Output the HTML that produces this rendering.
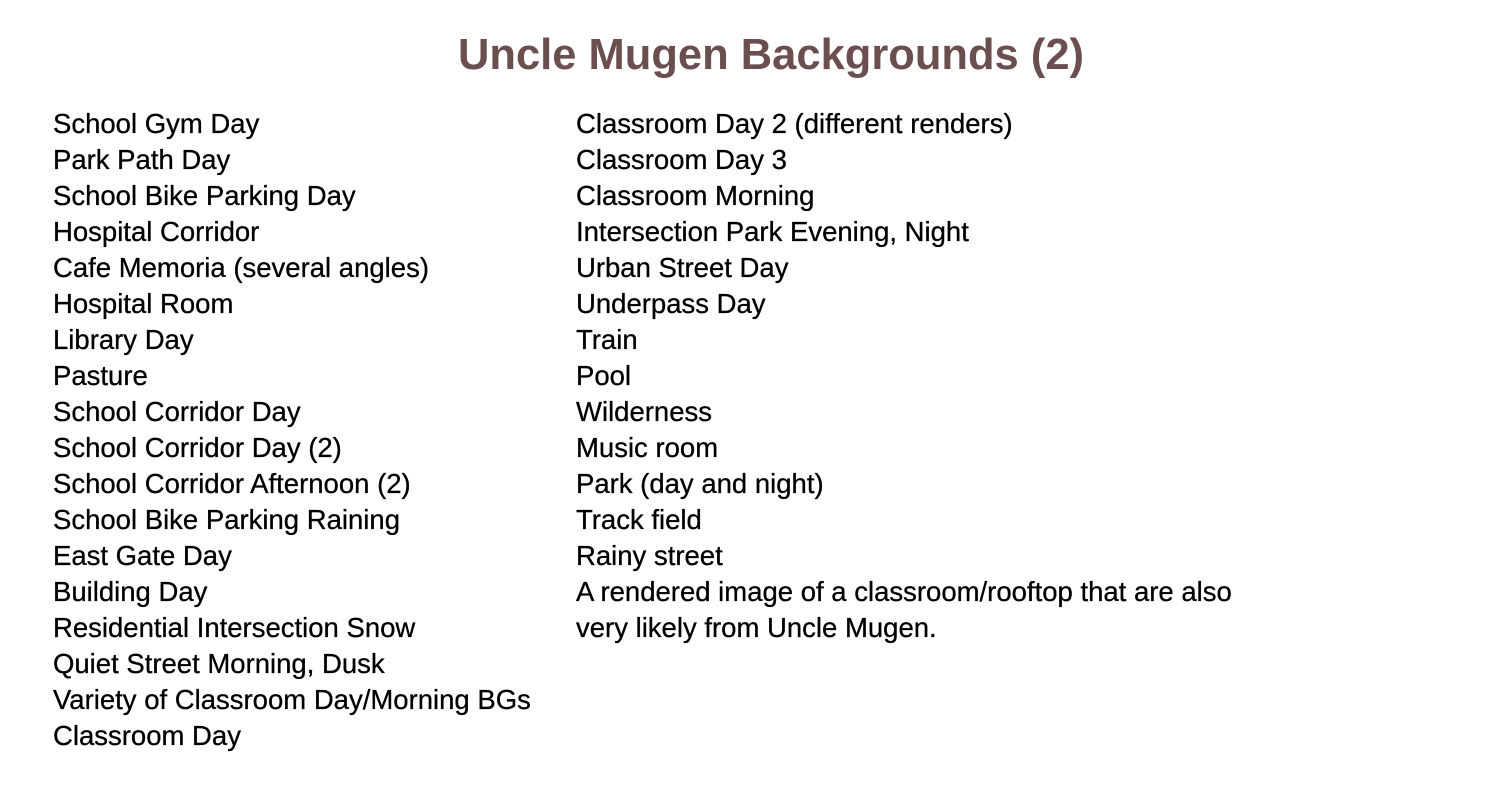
<!DOCTYPE html>
<html><head><meta charset="utf-8"><style>
body{margin:0;width:1500px;height:800px;background:#fff;position:relative;overflow:hidden;font-family:"Liberation Sans",sans-serif;color:#000}
.t{position:absolute;left:0;width:1542px;top:28px;text-align:center;font-size:43.5px;font-weight:bold;line-height:54px;color:#6b4f4f}
.c{position:absolute;top:106px;font-size:27.5px;line-height:36px;white-space:nowrap;-webkit-text-stroke:0.3px #000}
</style></head><body>
<div class="t">Uncle Mugen Backgrounds (2)</div>
<div class="c" style="left:53px">School Gym Day<br>Park Path Day<br>School Bike Parking Day<br>Hospital Corridor<br>Cafe Memoria (several angles)<br>Hospital Room<br>Library Day<br>Pasture<br>School Corridor Day<br>School Corridor Day (2)<br>School Corridor Afternoon (2)<br>School Bike Parking Raining<br>East Gate Day<br>Building Day<br>Residential Intersection Snow<br>Quiet Street Morning, Dusk<br>Variety of Classroom Day/Morning BGs<br>Classroom Day</div>
<div class="c" style="left:576px">Classroom Day 2 (different renders)<br>Classroom Day 3<br>Classroom Morning<br>Intersection Park Evening, Night<br>Urban Street Day<br>Underpass Day<br>Train<br>Pool<br>Wilderness<br>Music room<br>Park (day and night)<br>Track field<br>Rainy street<br>A rendered image of a classroom/rooftop that are also<br>very likely from Uncle Mugen.</div>
</body></html>
